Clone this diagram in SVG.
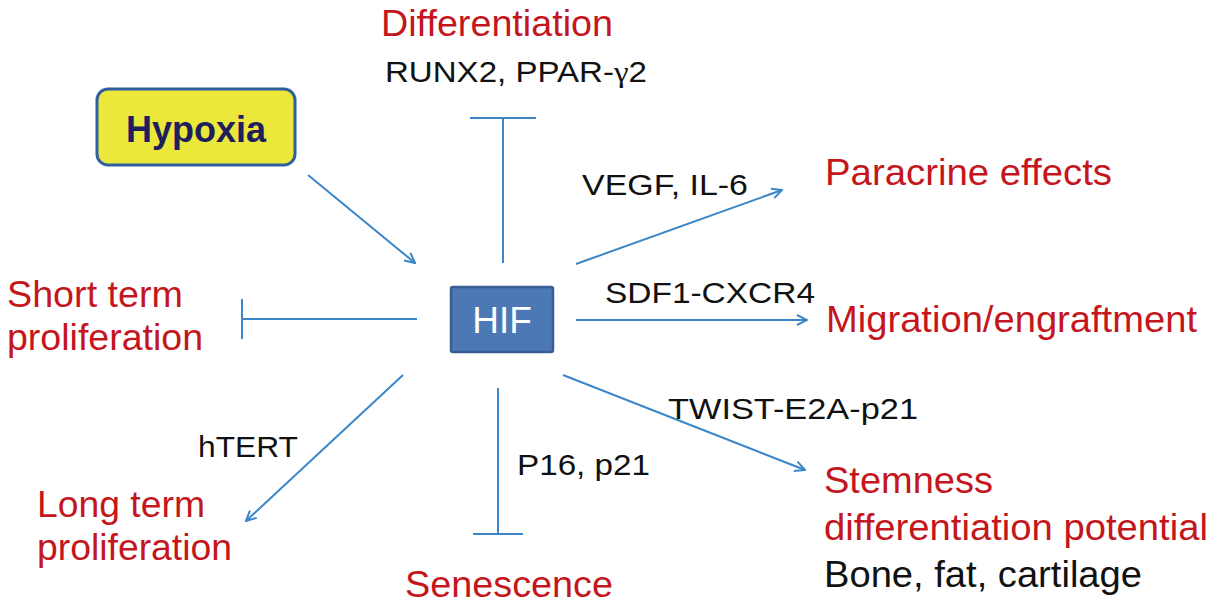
<svg xmlns="http://www.w3.org/2000/svg" width="1219" height="607" viewBox="0 0 1219 607">
<style>
.red{font-family:"Liberation Sans",Arial,sans-serif;font-size:36px;fill:#C4161C}
.blk{font-family:"Liberation Sans",Arial,sans-serif;font-size:30px;fill:#111}
.big{font-family:"Liberation Sans",Arial,sans-serif;font-size:36px;fill:#111}
.ln{stroke:#3A86C8;stroke-width:2;fill:none}
</style>
<defs>
<marker id="arr" viewBox="0 0 12 12" refX="11" refY="6" markerWidth="12" markerHeight="12" markerUnits="userSpaceOnUse" orient="auto">
<path d="M1,1 L11,6 L1,11" fill="none" stroke="#3A86C8" stroke-width="2"/>
</marker>
</defs>
<rect width="1219" height="607" fill="#fff"/>
<g id="connectors">
<line class="ln" x1="308" y1="175" x2="415" y2="263" marker-end="url(#arr)"/>
<line class="ln" x1="503" y1="263" x2="503" y2="118"/>
<line class="ln" x1="470" y1="118" x2="536" y2="118"/>
<line class="ln" x1="576" y1="264" x2="782" y2="190" marker-end="url(#arr)"/>
<line class="ln" x1="576" y1="320" x2="807" y2="320" marker-end="url(#arr)"/>
<line class="ln" x1="417" y1="319" x2="242" y2="319"/>
<line class="ln" x1="242" y1="299" x2="242" y2="339"/>
<line class="ln" x1="403" y1="375" x2="246" y2="521" marker-end="url(#arr)"/>
<line class="ln" x1="498" y1="388" x2="498" y2="534"/>
<line class="ln" x1="473" y1="534" x2="523" y2="534"/>
<line class="ln" x1="563" y1="375" x2="805" y2="470" marker-end="url(#arr)"/>
</g>
<g id="hypoxia">
<rect x="97" y="89" width="198" height="76" rx="11" fill="#EBE73B" stroke="#2F5F9E" stroke-width="3"/>
<text x="196" y="142" text-anchor="middle" font-family="'Liberation Sans',Arial,sans-serif" font-weight="bold" font-size="36" fill="#1E1F5C">Hypoxia</text>
</g>
<g id="hif">
<rect x="451" y="287" width="102" height="65" rx="2" fill="#4C79B6" stroke="#385D92" stroke-width="2.5"/>
<text x="502" y="333" text-anchor="middle" font-family="'Liberation Sans',Arial,sans-serif" font-size="37" fill="#fff">HIF</text>
</g>
<g id="differentiation">
<text class="red" x="381" y="36" textLength="232" lengthAdjust="spacingAndGlyphs">Differentiation</text>
<text class="blk" x="385" y="82" textLength="262" lengthAdjust="spacingAndGlyphs">RUNX2, PPAR-<tspan font-family="'Liberation Serif',serif">γ</tspan>2</text>
</g>
<g id="paracrine">
<text class="blk" x="582" y="195" textLength="166" lengthAdjust="spacingAndGlyphs">VEGF, IL-6</text>
<text class="red" x="825" y="185" textLength="287" lengthAdjust="spacingAndGlyphs">Paracrine effects</text>
</g>
<g id="migration">
<text class="blk" x="605" y="303" textLength="210" lengthAdjust="spacingAndGlyphs">SDF1-CXCR4</text>
<text class="red" x="826" y="332" textLength="371" lengthAdjust="spacingAndGlyphs">Migration/engraftment</text>
</g>
<g id="short-term">
<text class="red" x="7" y="307" textLength="176" lengthAdjust="spacingAndGlyphs">Short term</text>
<text class="red" x="7" y="350" textLength="196" lengthAdjust="spacingAndGlyphs">proliferation</text>
</g>
<g id="long-term">
<text class="blk" x="198" y="457" textLength="100" lengthAdjust="spacingAndGlyphs">hTERT</text>
<text class="red" x="37" y="517" textLength="168" lengthAdjust="spacingAndGlyphs">Long term</text>
<text class="red" x="37" y="560" textLength="195" lengthAdjust="spacingAndGlyphs">proliferation</text>
</g>
<g id="senescence">
<text class="blk" x="517" y="475" textLength="133" lengthAdjust="spacingAndGlyphs">P16, p21</text>
<text class="red" x="405" y="597" textLength="208" lengthAdjust="spacingAndGlyphs">Senescence</text>
</g>
<g id="stemness">
<text class="blk" x="668" y="419" textLength="250" lengthAdjust="spacingAndGlyphs">TWIST-E2A-p21</text>
<text class="red" x="824" y="493" textLength="169" lengthAdjust="spacingAndGlyphs">Stemness</text>
<text class="red" x="824" y="540" textLength="384" lengthAdjust="spacingAndGlyphs">differentiation potential</text>
<text class="big" x="824" y="587" textLength="318" lengthAdjust="spacingAndGlyphs">Bone, fat, cartilage</text>
</g>
</svg>
